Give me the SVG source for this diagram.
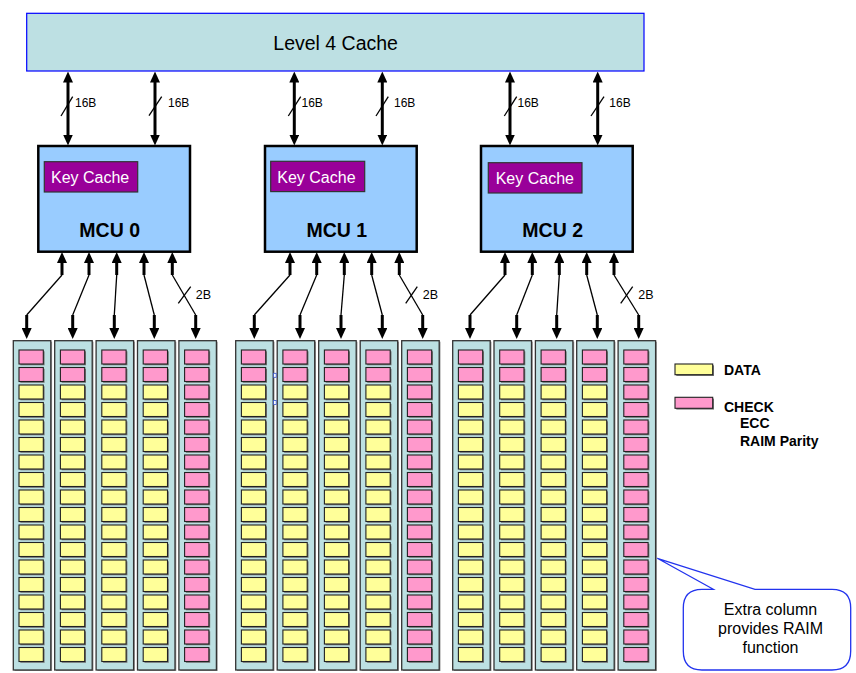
<svg xmlns="http://www.w3.org/2000/svg" width="856" height="673" viewBox="0 0 856 673">
<style>
text{font-family:"Liberation Sans",Arial,sans-serif;fill:#000}
.l4{fill:#BDE0E3;stroke:#0000FF;stroke-width:1.2}
.mcu{fill:#99CCFF;stroke:#000;stroke-width:2.5}
.kc{fill:#990099;stroke:#333;stroke-width:1.2}
.kct{fill:#fff;font-size:16px}
.mcut{font-size:19.5px;font-weight:bold;text-anchor:middle}
.col{fill:#BCE0E2;stroke:#333;stroke-width:1.3}
.colsh{fill:#999}
.chsh{fill:#777}
.y{fill:#FFFF99;stroke:#222;stroke-width:1.1}
.p{fill:#FF99CC;stroke:#222;stroke-width:1.1}
.thick{stroke:#000;stroke-width:3;fill:none}
.thin{stroke:#000;stroke-width:1.3;fill:none}
.lbl{font-size:12px}
.leg{font-size:14px;font-weight:bold}
.call{fill:#fff;stroke:#2233EE;stroke-width:1.3}
.callt{font-size:16px;text-anchor:middle}
.art{fill:#fff;stroke:#3355CC;stroke-width:0.8}
</style>
<defs>
<marker id="ah" markerUnits="userSpaceOnUse" markerWidth="11" markerHeight="10" viewBox="0 0 11 10" refX="0.5" refY="5" orient="auto-start-reverse">
<path d="M0,0 L11,5 L0,10 z" fill="#000"/>
</marker>
<g id="cy"><rect class="chsh" x="7" y="1.3" width="24.3" height="14"/><rect class="y" x="5.7" y="0" width="24.3" height="14"/></g>
<g id="cp"><rect class="chsh" x="7" y="1.3" width="24.3" height="14"/><rect class="p" x="5.7" y="0" width="24.3" height="14"/></g>
<g id="colA">
<rect class="colsh" x="1.3" y="1" width="37.5" height="329.3"/>
<rect class="col" x="0" y="0" width="37.5" height="329.3"/>
<use href="#cp" y="9.3"/><use href="#cp" y="26.8"/><use href="#cy" y="44.3"/><use href="#cy" y="61.8"/><use href="#cy" y="79.3"/><use href="#cy" y="96.8"/><use href="#cy" y="114.3"/><use href="#cy" y="131.8"/><use href="#cy" y="149.3"/><use href="#cy" y="166.8"/><use href="#cy" y="184.3"/><use href="#cy" y="201.8"/><use href="#cy" y="219.3"/><use href="#cy" y="236.8"/><use href="#cy" y="254.3"/><use href="#cy" y="271.8"/><use href="#cy" y="289.3"/><use href="#cy" y="306.8"/>
</g>
<g id="colB">
<rect class="colsh" x="1.3" y="1" width="37.5" height="329.3"/>
<rect class="col" x="0" y="0" width="37.5" height="329.3"/>
<use href="#cp" y="9.3"/><use href="#cp" y="26.8"/><use href="#cp" y="44.3"/><use href="#cp" y="61.8"/><use href="#cp" y="79.3"/><use href="#cp" y="96.8"/><use href="#cp" y="114.3"/><use href="#cp" y="131.8"/><use href="#cp" y="149.3"/><use href="#cp" y="166.8"/><use href="#cp" y="184.3"/><use href="#cp" y="201.8"/><use href="#cp" y="219.3"/><use href="#cp" y="236.8"/><use href="#cp" y="254.3"/><use href="#cp" y="271.8"/><use href="#cp" y="289.3"/><use href="#cp" y="306.8"/>
</g>
</defs>
<rect width="856" height="673" fill="#fff"/>

<g id="l4cache">
<rect class="l4" x="26.7" y="13.3" width="617.3" height="57.7"/>
<text x="273.3" y="50" style="font-size:19.5px">Level 4 Cache</text>
</g>

<g id="mcu0">
<rect class="mcu" x="38.3" y="146" width="151.7" height="105.7"/>
<rect class="kc" x="44.3" y="161.7" width="93.4" height="30.3"/>
<text class="kct" x="51" y="182.7">Key Cache</text>
<text class="mcut" x="109.7" y="237.3">MCU 0</text>
</g>
<g id="mcu1">
<rect class="mcu" x="265" y="146" width="151.7" height="105.7"/>
<rect class="kc" x="270.7" y="161.3" width="94" height="30.3"/>
<text class="kct" x="277.3" y="182.7">Key Cache</text>
<text class="mcut" x="336.8" y="237.3">MCU 1</text>
</g>
<g id="mcu2">
<rect class="mcu" x="481" y="146" width="151.7" height="105.7"/>
<rect class="kc" x="488.3" y="162.7" width="93.7" height="30.3"/>
<text class="kct" x="495.7" y="184">Key Cache</text>
<text class="mcut" x="552.7" y="237.3">MCU 2</text>
</g>

<g id="dimms0">
<use href="#colA" x="13.3" y="340.7"/>
<use href="#colA" x="54.7" y="340.7"/>
<use href="#colA" x="96.1" y="340.7"/>
<use href="#colA" x="137.5" y="340.7"/>
<use href="#colB" x="178.9" y="340.7"/>
</g>
<g id="dimms1">
<use href="#colA" x="235.7" y="340.7"/>
<use href="#colA" x="277.2" y="340.7"/>
<use href="#colA" x="318.7" y="340.7"/>
<use href="#colA" x="360.2" y="340.7"/>
<use href="#colB" x="401.7" y="340.7"/>
<rect class="art" x="273.6" y="373.3" width="2.6" height="4"/>
<rect class="art" x="273.6" y="400.5" width="2.6" height="4"/>
</g>
<g id="dimms2">
<use href="#colA" x="452.7" y="340.7"/>
<use href="#colA" x="494" y="340.7"/>
<use href="#colA" x="535.4" y="340.7"/>
<use href="#colA" x="576.7" y="340.7"/>
<use href="#colB" x="618.1" y="340.7"/>
</g>

<g id="connectors">
<line class="thick" x1="68" y1="82" x2="68" y2="135" marker-start="url(#ah)" marker-end="url(#ah)"/>
<line class="thick" x1="155" y1="82" x2="155" y2="135" marker-start="url(#ah)" marker-end="url(#ah)"/>
<line class="thick" x1="294.3" y1="82" x2="294.3" y2="135" marker-start="url(#ah)" marker-end="url(#ah)"/>
<line class="thick" x1="382.3" y1="82" x2="382.3" y2="135" marker-start="url(#ah)" marker-end="url(#ah)"/>
<line class="thick" x1="510" y1="82" x2="510" y2="135" marker-start="url(#ah)" marker-end="url(#ah)"/>
<line class="thick" x1="597.7" y1="82" x2="597.7" y2="135" marker-start="url(#ah)" marker-end="url(#ah)"/>
<line class="thin" x1="61" y1="116" x2="72.7" y2="96.7"/>
<line class="thin" x1="149" y1="115.7" x2="161.7" y2="96.7"/>
<line class="thin" x1="288.3" y1="116" x2="300.7" y2="96.7"/>
<line class="thin" x1="376" y1="116" x2="388.3" y2="96.7"/>
<line class="thin" x1="504.3" y1="116" x2="516.7" y2="96.7"/>
<line class="thin" x1="591" y1="116" x2="604" y2="96.7"/>
<text class="lbl" x="75" y="106.7">16B</text>
<text class="lbl" x="168" y="106.7">16B</text>
<text class="lbl" x="301.5" y="106.7">16B</text>
<text class="lbl" x="394" y="106.7">16B</text>
<text class="lbl" x="517.5" y="106.7">16B</text>
<text class="lbl" x="609.3" y="106.7">16B</text>

<path class="thick" d="M62 262.5V275" marker-start="url(#ah)"/><path class="thin" d="M62 275L26.7 315"/><path class="thick" d="M26.7 315V328.5" marker-end="url(#ah)"/>
<path class="thick" d="M89 262.5V275" marker-start="url(#ah)"/><path class="thin" d="M89 275L72.7 315"/><path class="thick" d="M72.7 315V328.5" marker-end="url(#ah)"/>
<path class="thick" d="M116.7 262.5V275" marker-start="url(#ah)"/><path class="thin" d="M116.7 275L114.3 315"/><path class="thick" d="M114.3 315V328.5" marker-end="url(#ah)"/>
<path class="thick" d="M144 262.5V275" marker-start="url(#ah)"/><path class="thin" d="M144 275L154.3 315"/><path class="thick" d="M154.3 315V328.5" marker-end="url(#ah)"/>
<path class="thick" d="M172.3 262.5V275" marker-start="url(#ah)"/><path class="thin" d="M172.3 275L195.7 315"/><path class="thick" d="M195.7 315V328.5" marker-end="url(#ah)"/>
<line class="thin" x1="178.3" y1="303.3" x2="190.7" y2="286.7"/>
<text class="lbl" x="195.7" y="299.3" style="font-size:12.5px">2B</text>

<path class="thick" d="M290 262.5V275" marker-start="url(#ah)"/><path class="thin" d="M290 275L254.3 315"/><path class="thick" d="M254.3 315V328.5" marker-end="url(#ah)"/>
<path class="thick" d="M316.7 262.5V275" marker-start="url(#ah)"/><path class="thin" d="M316.7 275L300 315"/><path class="thick" d="M300 315V328.5" marker-end="url(#ah)"/>
<path class="thick" d="M344.3 262.5V275" marker-start="url(#ah)"/><path class="thin" d="M344.3 275L341 315"/><path class="thick" d="M341 315V328.5" marker-end="url(#ah)"/>
<path class="thick" d="M371.7 262.5V275" marker-start="url(#ah)"/><path class="thin" d="M371.7 275L382.3 315"/><path class="thick" d="M382.3 315V328.5" marker-end="url(#ah)"/>
<path class="thick" d="M399.3 262.5V275" marker-start="url(#ah)"/><path class="thin" d="M399.3 275L422.7 315"/><path class="thick" d="M422.7 315V328.5" marker-end="url(#ah)"/>
<line class="thin" x1="405.7" y1="303.3" x2="417.3" y2="286.7"/>
<text class="lbl" x="422.7" y="299.3" style="font-size:12.5px">2B</text>

<path class="thick" d="M505 262.5V275" marker-start="url(#ah)"/><path class="thin" d="M505 275L470 315"/><path class="thick" d="M470 315V328.5" marker-end="url(#ah)"/>
<path class="thick" d="M532.3 262.5V275" marker-start="url(#ah)"/><path class="thin" d="M532.3 275L516.7 315"/><path class="thick" d="M516.7 315V328.5" marker-end="url(#ah)"/>
<path class="thick" d="M559.3 262.5V275" marker-start="url(#ah)"/><path class="thin" d="M559.3 275L556.7 315"/><path class="thick" d="M556.7 315V328.5" marker-end="url(#ah)"/>
<path class="thick" d="M586.7 262.5V275" marker-start="url(#ah)"/><path class="thin" d="M586.7 275L597.3 315"/><path class="thick" d="M597.3 315V328.5" marker-end="url(#ah)"/>
<path class="thick" d="M614 262.5V275" marker-start="url(#ah)"/><path class="thin" d="M614 275L638.7 315"/><path class="thick" d="M638.7 315V328.5" marker-end="url(#ah)"/>
<line class="thin" x1="620.7" y1="303.3" x2="632.7" y2="286.7"/>
<text class="lbl" x="638.3" y="299.3" style="font-size:12.5px">2B</text>
</g>

<g id="legend">
<rect class="chsh" x="676.3" y="365.3" width="37.7" height="10.7"/>
<rect class="y" x="675" y="364" width="37.7" height="10.7"/>
<text class="leg" x="724" y="374.7">DATA</text>
<rect class="chsh" x="676.3" y="398.6" width="37.7" height="11"/>
<rect class="p" x="675" y="397.3" width="37.7" height="11"/>
<text class="leg" x="724" y="411.7">CHECK</text>
<text class="leg" x="740" y="428.3">ECC</text>
<text class="leg" x="740" y="446">RAIM Parity</text>
</g>

<g id="callout">
<path class="call" d="M713.3 589.3L657.3 558.3L755 589.3H832Q850.7 589.3 850.7 608V651Q850.7 670 832 670H702Q683.3 670 683.3 651V608Q683.3 589.3 702 589.3Z"/>
<text class="callt" x="770.5" y="615">Extra column</text>
<text class="callt" x="770.5" y="634">provides RAIM</text>
<text class="callt" x="770.5" y="653">function</text>
</g>
</svg>
